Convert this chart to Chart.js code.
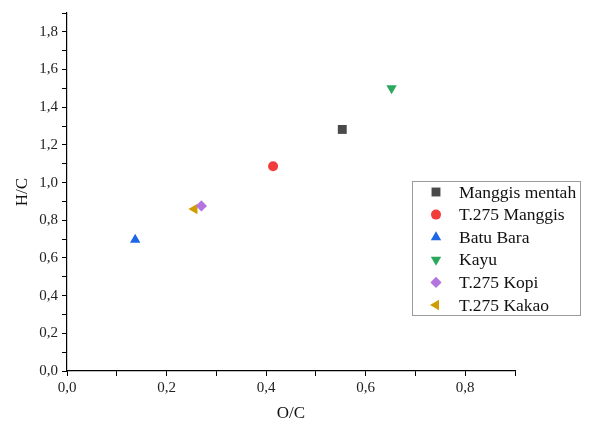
<!DOCTYPE html>
<html>
<head>
<meta charset="utf-8">
<script src="https://cdn.jsdelivr.net/npm/chart.js@4"></script>
<style>
  body { margin: 0; background: #fff; }
  #wrap { width: 590px; height: 428px; }
</style>
</head>
<body>
<div id="wrap"><canvas id="myChart"></canvas></div>
<script>
// data
const seriesNames = ["Manggis mentah", "T.275 Manggis", "Batu Bara", "Kayu", "T.275 Kopi", "T.275 Kakao"];
const ocValues = [0.553, 0.414, 0.137, 0.652, 0.27, 0.256];
const hcValues = [1.282, 1.087, 0.697, 1.5, 0.876, 0.86];
const xTickValues = [0, 0.1, 0.2, 0.3, 0.4, 0.5, 0.6, 0.7, 0.8, 0.9];
const yTickValues = [0, 0.1, 0.2, 0.3, 0.4, 0.5, 0.6, 0.7, 0.8, 0.9, 1.0, 1.1, 1.2, 1.3, 1.4, 1.5, 1.6, 1.7, 1.8, 1.9];

const colors = ["#4a4a4a", "#f23b3b", "#1e66e6", "#2aa85c", "#b474e0", "#d19c00"];
const shapes = ["rect", "circle", "triangle", "triangle", "rectRot", "triangle"];
const rotations = [0, 0, 0, 180, 0, -90];
const radii = [6.3, 5, 6, 6, 5.6, 6];

const serif = "'Liberation Serif', 'DejaVu Serif', serif";

function fmt(v) {
  return v.toFixed(1).replace(".", ",");
}
function isMajor(v) {
  return Math.round(v * 10) % 2 === 0;
}

const datasets = seriesNames.map((name, i) => ({
  label: name,
  data: [{ x: ocValues[i], y: hcValues[i] }],
  backgroundColor: colors[i],
  borderColor: colors[i],
  borderWidth: 0,
  pointStyle: shapes[i],
  rotation: rotations[i],
  pointRadius: radii[i],
  pointHoverRadius: radii[i],
}));

// legend box drawn inside the plot, like the original
const boxLegend = {
  id: "boxLegend",
  afterDraw(chart) {
    const ctx = chart.ctx;
    const left = 412, top = 181, w = 168, h = 134;
    ctx.save();
    ctx.fillStyle = "#fff";
    ctx.fillRect(left, top, w, h);
    ctx.strokeStyle = "#9a9a9a";
    ctx.lineWidth = 1;
    ctx.strokeRect(left + 0.5, top + 0.5, w, h);
    ctx.font = "17.5px " + serif;
    ctx.textBaseline = "middle";
    chart.data.datasets.forEach((ds, i) => {
      const y = top + 11 + i * 22.6;
      ctx.fillStyle = ds.backgroundColor;
      Chart.helpers.drawPoint(ctx, {
        pointStyle: ds.pointStyle,
        rotation: ds.rotation,
        radius: ds.pointRadius,
        borderWidth: 0,
      }, 436, y);
      ctx.fillStyle = "#111";
      ctx.fillText(ds.label, 459, y + 1);
    });
    ctx.restore();
  },
};

const ctx = document.getElementById("myChart").getContext("2d");
const myScatter = new Chart(ctx, {
  type: "scatter",
  data: { datasets: datasets },
  options: {
    responsive: true,
    maintainAspectRatio: false,
    animation: false,
    layout: { padding: { left: 0, top: 12, right: 75, bottom: 0 } },
    scales: {
      x: {
        type: "linear",
        min: 0,
        max: 0.9,
        afterBuildTicks: (s) => { s.ticks = xTickValues.map((v) => ({ value: v })); },
        afterFit: (s) => { s.height = 57; },
        border: { display: true, color: "#000", width: 1.2 },
        grid: { display: true, drawOnChartArea: false, drawTicks: true, tickLength: 5, color: "#000" },
        ticks: {
          color: "#222",
          font: { family: serif, size: 15 },
          padding: 3,
          maxRotation: 0,
          autoSkip: false,
          callback: (v) => (isMajor(v) && v < 0.85 ? fmt(v) : ""),
        },
        title: {
          display: true,
          text: "O/C",
          color: "#111",
          font: { family: serif, size: 17 },
          padding: { top: 14 },
        },
      },
      y: {
        type: "linear",
        min: 0,
        max: 1.9,
        afterBuildTicks: (s) => { s.ticks = yTickValues.map((v) => ({ value: v })); },
        afterFit: (s) => { s.width = 67; },
        border: { display: true, color: "#000", width: 1.2 },
        grid: { display: true, drawOnChartArea: false, drawTicks: true, tickLength: 5, color: "#000" },
        ticks: {
          color: "#222",
          font: { family: serif, size: 15 },
          padding: 4,
          autoSkip: false,
          callback: (v) => (isMajor(v) && v < 1.85 ? fmt(v) : ""),
        },
        title: {
          display: true,
          text: "H/C",
          color: "#111",
          font: { family: serif, size: 17 },
          padding: { top: 12, bottom: 4 },
        },
      },
    },
    plugins: {
      legend: { display: false },
      tooltip: { enabled: false },
      title: { display: false },
    },
  },
  plugins: [boxLegend],
});
</script>
</body>
</html>
